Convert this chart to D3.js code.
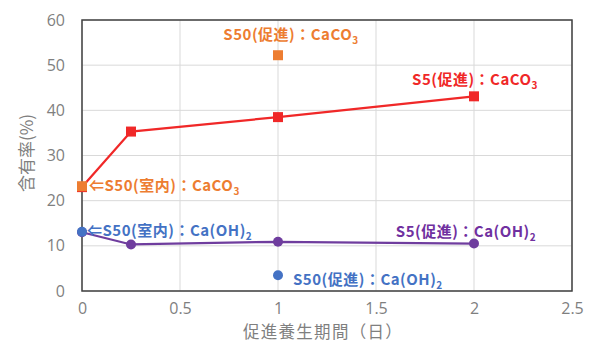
<!DOCTYPE html>
<html>
<head>
<meta charset="utf-8">
<script src="https://cdn.jsdelivr.net/npm/d3@7"></script>
<style>
  html, body { margin: 0; padding: 0; background: #fff; }
  svg { display: block; }
  .tick text { font-family: "Open Sans", "Noto Sans", sans-serif; }
</style>
</head>
<body>
<svg id="chart" width="593" height="343"></svg>
<script>
// Curing period (days) and content (%) for each series
const s5Days = [0, 0.25, 1, 2];
const s5CaCO3 = [23.0, 35.3, 38.5, 43.1];
const s5CaOH2 = [13.0, 10.3, 10.9, 10.5];

const s50IndoorDays = [0];
const s50IndoorCaCO3 = [23.2];
const s50IndoorCaOH2 = [13.1];

const s50AccelDays = [1];
const s50AccelCaCO3 = [52.2];
const s50AccelCaOH2 = [3.5];

const xTicks = [0, 0.5, 1, 1.5, 2, 2.5];
const yTicks = [0, 10, 20, 30, 40, 50, 60];

const C_RED = "#f02828", C_ORANGE = "#ed7d31", C_PURPLE = "#7030a0", C_BLUE = "#4472c4";
const C_PURPLE_LINE = "#6f3d9e";

const svg = d3.select("#chart");
const m = { left: 82, right: 572, top: 20, bottom: 291 };
const x = d3.scaleLinear().domain([0, 2.5]).range([m.left, m.right]);
const y = d3.scaleLinear().domain([0, 60]).range([m.bottom, m.top]);

// gridlines
const grid = svg.append("g");
grid.selectAll("line.gx").data(xTicks).join("line")
  .attr("x1", d => x(d)).attr("x2", d => x(d))
  .attr("y1", m.top).attr("y2", m.bottom)
  .attr("stroke", "#d9d9d9").attr("stroke-width", 1);
grid.selectAll("line.gy").data(yTicks).join("line")
  .attr("x1", m.left).attr("x2", m.right)
  .attr("y1", d => y(d)).attr("y2", d => y(d))
  .attr("stroke", "#d9d9d9").attr("stroke-width", 1);

// axes
const xAxis = svg.append("g").attr("transform", `translate(0,${m.bottom})`)
  .call(d3.axisBottom(x).tickValues(xTicks).tickSize(0).tickPadding(12).tickFormat(d3.format("")));
const yAxis = svg.append("g").attr("transform", `translate(${m.left},0)`)
  .call(d3.axisLeft(y).tickValues(yTicks).tickSize(0).tickPadding(17));
[xAxis, yAxis].forEach(a => {
  a.select(".domain").remove();
  a.selectAll("text").attr("fill", "#7f7f7f").attr("font-size", 16);
});

// plot frame
svg.append("rect")
  .attr("x", m.left).attr("y", m.top)
  .attr("width", m.right - m.left).attr("height", m.bottom - m.top)
  .attr("fill", "none").attr("stroke", "#404040").attr("stroke-width", 1.5);

// axis titles
svg.append("text")
  .attr("x", 323).attr("y", 338).attr("text-anchor", "middle")
  .attr("font-family", "Noto Sans CJK JP").attr("font-size", 16.5).attr("fill", "#7f7f7f")
  .attr("letter-spacing", 1.3)
  .text("促進養生期間（日）");
svg.append("text")
  .attr("transform", "translate(33,153) rotate(-90)").attr("text-anchor", "middle")
  .attr("font-family", "Noto Sans CJK JP").attr("font-size", 17).attr("fill", "#7f7f7f")
  .text("含有率(%)");

const line = d3.line().x(d => x(d[0])).y(d => y(d[1]));
const pts = (xs, ys) => xs.map((v, i) => [v, ys[i]]);

// S5 CaCO3 — red line with square markers
svg.append("path").datum(pts(s5Days, s5CaCO3)).attr("d", line)
  .attr("fill", "none").attr("stroke", C_RED).attr("stroke-width", 2.25);
svg.selectAll("rect.s5c").data(pts(s5Days, s5CaCO3)).join("rect")
  .attr("x", d => x(d[0]) - 5).attr("y", d => y(d[1]) - 5)
  .attr("width", 10).attr("height", 10).attr("fill", C_RED);

// S5 Ca(OH)2 — purple line with circle markers
svg.append("path").datum(pts(s5Days, s5CaOH2)).attr("d", line)
  .attr("fill", "none").attr("stroke", C_PURPLE_LINE).attr("stroke-width", 2.25);
svg.selectAll("circle.s5h").data(pts(s5Days, s5CaOH2)).join("circle")
  .attr("cx", d => x(d[0])).attr("cy", d => y(d[1])).attr("r", 5).attr("fill", C_PURPLE_LINE);

// S50 markers
const squares = pts(s50IndoorDays, s50IndoorCaCO3).concat(pts(s50AccelDays, s50AccelCaCO3));
svg.selectAll("rect.s50c").data(squares).join("rect")
  .attr("x", d => x(d[0]) - 5).attr("y", d => y(d[1]) - 5)
  .attr("width", 10).attr("height", 10).attr("fill", C_ORANGE);
const dots = pts(s50IndoorDays, s50IndoorCaOH2).concat(pts(s50AccelDays, s50AccelCaOH2));
svg.selectAll("circle.s50h").data(dots).join("circle")
  .attr("cx", d => x(d[0])).attr("cy", d => y(d[1])).attr("r", 5).attr("fill", C_BLUE);

// data labels
function label(px, py, anchor, color, main, sub) {
  const t = svg.append("text")
    .attr("x", px).attr("y", py).attr("text-anchor", anchor)
    .attr("font-family", "Noto Sans CJK JP").attr("font-weight", "bold")
    .attr("font-size", 15).attr("letter-spacing", 0.5).attr("fill", color);
  t.append("tspan").text(main);
  t.append("tspan").attr("dy", 4).attr("font-size", 10).text(sub);
}
label(x(1) + 13, y(s50AccelCaCO3[0]) - 15, "middle", C_ORANGE, "S50(促進)：CaCO", "3");
label(x(2) + 1, y(s5CaCO3[3]) - 11, "middle", C_RED, "S5(促進)：CaCO", "3");
label(x(0) + 7, y(s50IndoorCaCO3[0]) + 5, "start", C_ORANGE, "⇐S50(室内)：CaCO", "3");
label(x(0) + 5, y(s50IndoorCaOH2[0]) + 4, "start", C_BLUE, "⇐S50(室内)：Ca(OH)", "2");
label(x(2) - 8, y(s5CaOH2[3]) - 7, "middle", C_PURPLE, "S5(促進)：Ca(OH)", "2");
label(x(1) + 15, y(s50AccelCaOH2[0]) + 10, "start", C_BLUE, "S50(促進)：Ca(OH)", "2");
</script>
</body>
</html>
